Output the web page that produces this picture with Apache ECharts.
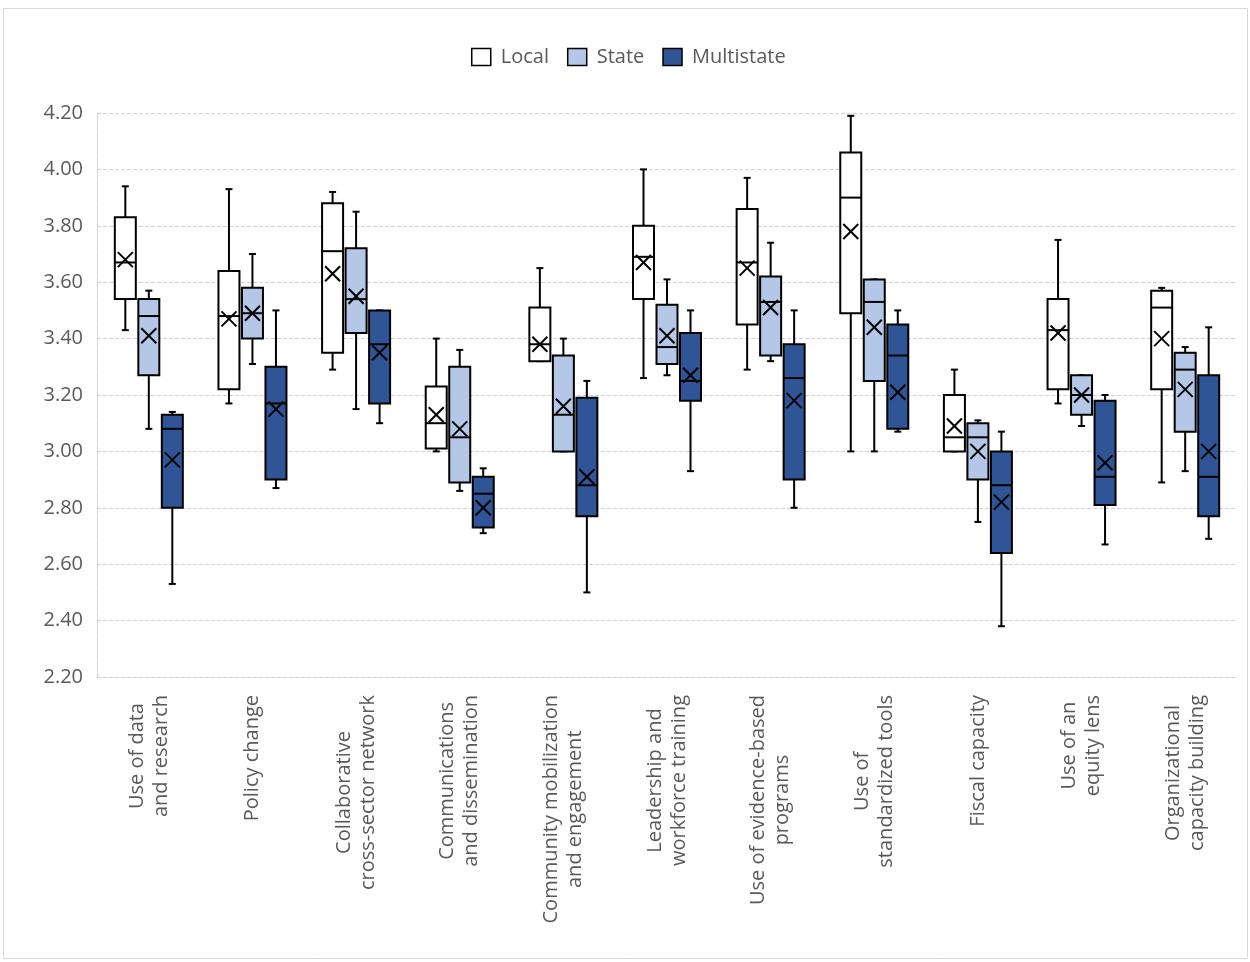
<!DOCTYPE html>
<html>
<head>
<meta charset="utf-8">
<script src="https://cdn.jsdelivr.net/npm/echarts@6/dist/echarts.min.js"></script>
<style>
html,body{margin:0;padding:0;background:#fff;}
#chart{width:1250px;height:962px;}
</style>
</head>
<body>
<div id="chart"></div>
<script>
var categories = [
  "Use of data\nand research", "Policy change", "Collaborative\ncross-sector network",
  "Communications\nand dissemination", "Community mobilization\nand engagement",
  "Leadership and\nworkforce training", "Use of evidence-based\nprograms",
  "Use of\nstandardized tools", "Fiscal capacity", "Use of an\nequity lens",
  "Organizational\ncapacity building"
];
var seriesNames = ["Local", "State", "Multistate"];
// [whisker low, Q1, median, Q3, whisker high]
var localBox = [
  [3.43,3.54,3.67,3.83,3.94],[3.17,3.22,3.48,3.64,3.93],[3.29,3.35,3.71,3.88,3.92],
  [3.00,3.01,3.10,3.23,3.40],[3.32,3.32,3.38,3.51,3.65],[3.26,3.54,3.69,3.80,4.00],
  [3.29,3.45,3.67,3.86,3.97],[3.00,3.49,3.90,4.06,4.19],[3.00,3.00,3.05,3.20,3.29],
  [3.17,3.22,3.43,3.54,3.75],[2.89,3.22,3.51,3.57,3.58]
];
var localMean = [3.68,3.47,3.63,3.13,3.38,3.67,3.65,3.78,3.09,3.42,3.40];
var stateBox = [
  [3.08,3.27,3.48,3.54,3.57],[3.31,3.40,3.49,3.58,3.70],[3.15,3.42,3.54,3.72,3.85],
  [2.86,2.89,3.05,3.30,3.36],[3.00,3.00,3.13,3.34,3.40],[3.27,3.31,3.37,3.52,3.61],
  [3.32,3.34,3.53,3.62,3.74],[3.00,3.25,3.53,3.61,3.61],[2.75,2.90,3.05,3.10,3.11],
  [3.09,3.13,3.20,3.27,3.27],[2.93,3.07,3.29,3.35,3.37]
];
var stateMean = [3.41,3.49,3.55,3.08,3.16,3.41,3.51,3.44,3.00,3.20,3.22];
var multiBox = [
  [2.53,2.80,3.08,3.13,3.14],[2.87,2.90,3.17,3.30,3.50],[3.10,3.17,3.38,3.50,3.50],
  [2.71,2.73,2.85,2.91,2.94],[2.50,2.77,2.88,3.19,3.25],[2.93,3.18,3.25,3.42,3.50],
  [2.80,2.90,3.26,3.38,3.50],[3.07,3.08,3.34,3.45,3.50],[2.38,2.64,2.88,3.00,3.07],
  [2.67,2.81,2.91,3.18,3.20],[2.69,2.77,2.91,3.27,3.44]
];
var multiMean = [2.97,3.15,3.35,2.80,2.91,3.27,3.18,3.21,2.82,2.96,3.00];
var yTicks = [2.2, 4.2, 0.2]; // min, max, interval

var fills = ["#FFFFFF", "#B4C7E7", "#2F5597"];
var offsets = [-23.5, 0, 23.5];
var boxes = [localBox, stateBox, multiBox];
var means = [localMean, stateMean, multiMean];

function buildData(b, m) {
  return b.map(function (r, i) { return [i, r[0], r[1], r[2], r[3], r[4], m[i]]; });
}

function makeRender(k) {
  return function (params, api) {
    var i = api.value(0);
    var cx = api.coord([i, api.value(3)])[0] + offsets[k];
    var yLo = api.coord([i, api.value(1)])[1];
    var yQ1 = api.coord([i, api.value(2)])[1];
    var yMed = api.coord([i, api.value(3)])[1];
    var yQ3 = api.coord([i, api.value(4)])[1];
    var yHi = api.coord([i, api.value(5)])[1];
    var yMean = api.coord([i, api.value(6)])[1];
    var hw = 10.5, cap = 3.5, xs = 7.5;
    var ls = {stroke: '#000', lineWidth: 2, fill: null};
    return {
      type: 'group',
      children: [
        {type: 'line', shape: {x1: cx, y1: yHi, x2: cx, y2: yQ3}, style: ls},
        {type: 'line', shape: {x1: cx, y1: yQ1, x2: cx, y2: yLo}, style: ls},
        {type: 'line', shape: {x1: cx - cap, y1: yHi, x2: cx + cap, y2: yHi}, style: ls},
        {type: 'line', shape: {x1: cx - cap, y1: yLo, x2: cx + cap, y2: yLo}, style: ls},
        {type: 'rect', shape: {x: cx - hw, y: yQ3, width: hw * 2, height: yQ1 - yQ3},
          style: {fill: fills[k], stroke: '#000', lineWidth: 2}},
        {type: 'line', shape: {x1: cx - hw, y1: yMed, x2: cx + hw, y2: yMed}, style: ls},
        {type: 'line', shape: {x1: cx - xs, y1: yMean - xs, x2: cx + xs, y2: yMean + xs}, style: ls},
        {type: 'line', shape: {x1: cx - xs, y1: yMean + xs, x2: cx + xs, y2: yMean - xs}, style: ls}
      ]
    };
  };
}

var chart = echarts.init(document.getElementById('chart'));
var font = "'Open Sans', 'DejaVu Sans', sans-serif";
var series = seriesNames.map(function (n, k) {
  return {
    name: n,
    type: 'custom',
    renderItem: makeRender(k),
    encode: {x: 0, y: [1, 2, 3, 4, 5, 6]},
    itemStyle: {color: fills[k], borderColor: '#000', borderWidth: 1.5},
    data: buildData(boxes[k], means[k])
  };
});

chart.setOption({
  animation: false,
  backgroundColor: '#fff',
  graphic: [{
    type: 'rect', shape: {x: 3.5, y: 8.5, width: 1244, height: 950},
    style: {fill: null, stroke: '#d9d9d9', lineWidth: 1}, silent: true
  }],
  legend: {
    left: 466, top: 42,
    itemWidth: 19, itemHeight: 17, itemGap: 18,
    textStyle: {color: '#595959', fontSize: 20, fontFamily: font, padding: [0, 0, 0, 5]},
    data: seriesNames.map(function (n, k) {
      return {name: n, icon: 'rect', itemStyle: {color: fills[k], borderColor: '#000', borderWidth: 1.5}};
    })
  },
  grid: {left: 97, right: 13, top: 113, bottom: 285},
  xAxis: {
    type: 'category',
    data: categories,
    axisLine: {show: true, lineStyle: {color: '#d0d0d0', type: 'dashed', width: 1}},
    axisTick: {show: false},
    splitLine: {show: false},
    axisLabel: {
      rotate: 90, margin: 18, interval: 0,
      formatter: function (v) { return v.split('\n').map(function (l) { return '{c|' + l + '}'; }).join('\n'); },
      rich: {c: {align: 'center', fontSize: 20, lineHeight: 24, color: '#595959', fontFamily: font}}
    }
  },
  yAxis: {
    type: 'value',
    min: yTicks[0], max: yTicks[1], interval: yTicks[2],
    axisLine: {show: true, lineStyle: {color: '#d0d0d0', type: 'dashed', width: 1}},
    axisTick: {show: false},
    splitLine: {show: true, lineStyle: {color: '#d0d0d0', type: 'dashed', width: 1}},
    axisLabel: {
      color: '#595959', fontSize: 20, fontFamily: font, margin: 14,
      formatter: function (v) { return v.toFixed(2); }
    }
  },
  series: series
});
</script>
</body>
</html>
